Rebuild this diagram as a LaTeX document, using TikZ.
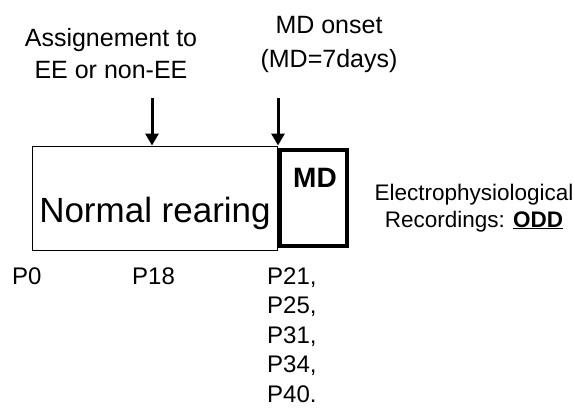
\documentclass[tikz,border=0pt]{standalone}
\usepackage{fontspec}
\setmainfont{Liberation Sans}
\usetikzlibrary{arrows.meta}
\usetikzlibrary{positioning}

\begin{document}
\begin{tikzpicture}[x=1pt, y=-1pt,
    txt/.style={inner sep=0pt, align=center, anchor=base},
    period/.style={draw, inner sep=0pt},
    onsetarrow/.style={line width=3pt, -{Triangle[width=13pt,length=12pt]}}]

    \useasboundingbox (0,0) rectangle (575,410);

    % Rearing periods
    \node[period, line width=1pt, minimum width=245.5pt, minimum height=104pt] (rear) at (154.75,198) {};
    \node[period, line width=4.5pt, minimum width=67.5pt, minimum height=96pt] (md) at (313.25,198) {};
    \node[txt, font=\fontsize{35}{42}\selectfont] (reartxt) at (155,222) {Normal rearing};
    \node[txt, font=\bfseries\fontsize{28}{34}\selectfont] (mdtxt) at (315,187) {MD};

    % Time points of the manipulations
    \coordinate (asgtop) at (152,98);
    \coordinate (mdtop) at (rear.north east |- asgtop);
    \draw[onsetarrow] (asgtop) -- (asgtop |- rear.north);
    \draw[onsetarrow] (mdtop) -- (rear.north east);

    % (base = last line)
    \node[txt, font=\fontsize{25}{32}\selectfont] (asg) at (111,78) {Assignement to\\EE or non-EE};
    \node[txt, font=\fontsize{25}{34}\selectfont] (onset) at (329,67) {MD onset\\(MD=7days)};

    % Recordings
    \node[txt, font=\fontsize{22.5}{27}\selectfont] (rec) at (474,227) {Electrophysiological\\Recordings: \underline{\textbf{ODD}}};

    % Postnatal days
    \node[txt, anchor=base west, font=\fontsize{24}{29}\selectfont] (p0) at (12,284) {P0};
    \node[txt, font=\fontsize{24}{29}\selectfont] (p18) at (153.5,284) {P18};
    \node[txt, anchor=base west, align=left, font=\fontsize{24}{29.5}\selectfont] (pmd) at (267,402) {P21,\\P25,\\P31,\\P34,\\P40.};

\end{tikzpicture}
\end{document}
